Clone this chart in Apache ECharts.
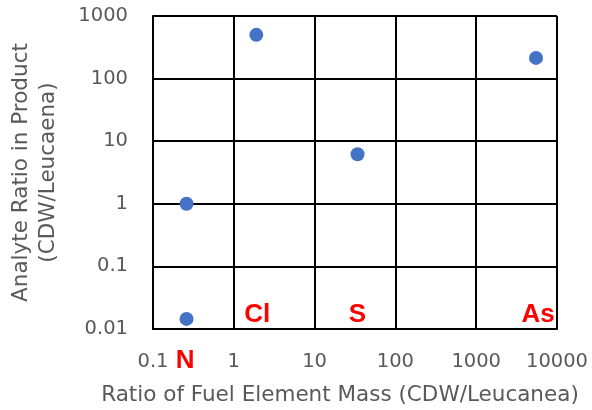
<!DOCTYPE html>
<html>
<head>
<meta charset="utf-8">
<script src="https://cdn.jsdelivr.net/npm/echarts@6/dist/echarts.min.js"></script>
<style>html,body{margin:0;padding:0;background:#fff}#c{width:592px;height:410px}</style>
</head>
<body>
<div id="c"></div>
<script>
var xVals = [0.26, 0.26, 1.9, 34, 5500];
var yVals = [0.0145, 1.0, 500, 6.2, 214];
var elementNames = ['N', 'Cl', 'S', 'As'];
var elementX = [0.25, 1.95, 34, 5850];
var elementY = [0.0031, 0.017, 0.017, 0.017];
var xTickLabels = ['0.1', '1', '10', '100', '1000', '10000'];
var yTickLabels = ['0.01', '0.1', '1', '10', '100', '1000'];
var xTitle = 'Ratio of Fuel Element Mass (CDW/Leucanea)';
var yTitle = 'Analyte Ratio in Product\n(CDW/Leucaena)';

var FONT = 'DejaVu Sans';
var TXT = '#595959';

function fmt(arr, base) {
  return function (v) {
    var i = Math.round(Math.log10(v)) - base;
    return arr[i] !== undefined ? arr[i] : '';
  };
}

var chart = echarts.init(document.getElementById('c'), null, {renderer: 'canvas'});
chart.setOption({
  animation: false,
  backgroundColor: '#fff',
  grid: {left: 153, right: 35, top: 16, bottom: 81, containLabel: false, outerBoundsMode: 'none'},
  xAxis: {
    type: 'log', logBase: 10, min: 0.1, max: 10000,
    name: xTitle, nameLocation: 'middle', nameGap: 55,
    nameTextStyle: {fontFamily: FONT, fontSize: 21.5, color: TXT, padding: [0, 30, 0, 0]},
    axisLine: {show: true, lineStyle: {color: '#000', width: 2}},
    axisTick: {show: false},
    minorTick: {show: false},
    splitLine: {show: true, lineStyle: {color: '#000', width: 2}},
    axisLabel: {fontFamily: FONT, fontSize: 19.5, color: TXT, margin: 23, formatter: fmt(xTickLabels, -1), showMinLabel: true, showMaxLabel: true}
  },
  yAxis: {
    type: 'log', logBase: 10, min: 0.01, max: 1000,
    name: yTitle, nameLocation: 'middle', nameGap: 91, nameRotate: 90,
    nameTextStyle: {fontFamily: FONT, fontSize: 21.5, color: TXT, lineHeight: 27},
    axisLine: {show: true, lineStyle: {color: '#000', width: 2}},
    axisTick: {show: false},
    splitLine: {show: true, lineStyle: {color: '#000', width: 2}},
    axisLabel: {fontFamily: FONT, fontSize: 19.5, color: TXT, margin: 25, formatter: fmt(yTickLabels, -2), showMinLabel: true, showMaxLabel: true}
  },
  series: [
    {
      type: 'scatter',
      symbolSize: 14,
      itemStyle: {color: '#4472C4', opacity: 1},
      data: xVals.map(function (x, i) { return [x, yVals[i]]; }),
      z: 3
    },
    {
      type: 'scatter',
      clip: false,
      symbolSize: 0,
      silent: true,
      itemStyle: {color: 'rgba(0,0,0,0)', opacity: 1},
      label: {
        show: true, position: 'inside',
        fontFamily: 'Liberation Sans', fontWeight: 'bold', fontSize: 26, color: '#FF0000',
        formatter: function (p) { return p.data[2]; }
      },
      data: elementNames.map(function (n, i) { return [elementX[i], elementY[i], n]; }),
      z: 4
    }
  ]
});
</script>
</body>
</html>
